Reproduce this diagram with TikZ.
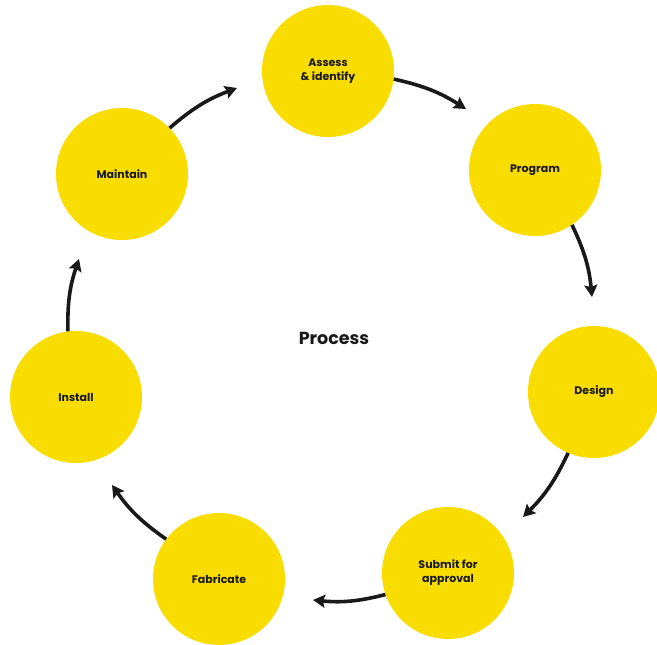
\documentclass[tikz,border=0pt]{standalone}
\usepackage{fontspec}
\setmainfont{Poppins}
\usetikzlibrary{arrows.meta}
\definecolor{stepyellow}{RGB}{250,221,0}
\definecolor{ink}{RGB}{25,25,25}
\tikzset{
  stage/.style={circle, fill=stepyellow, minimum size=132pt, inner sep=0pt, align=center,
    font=\bfseries\fontsize{11}{14}\selectfont, text=ink},
  flow/.style={line width=3.6pt, draw=ink, -{Stealth[length=12pt,width=13pt,inset=2pt]}, bend left=10},
}
\begin{document}
\begin{tikzpicture}[x=1pt,y=-1pt]
\useasboundingbox (0,0) rectangle (657,645);
\clip (0,0) rectangle (657,645);
\fill[white] (0,0) rectangle (657,645);
\node[stage] (assess) at (328,71) {Assess\\\& identify};
\node[stage] (program) at (535,170) {Program};
\node[stage] (design) at (594,392) {Design};
\node[stage] (submit) at (448,573) {Submit for\\approval};
\node[stage] (fabricate) at (219,579) {Fabricate};
\node[stage] (install) at (76,397) {Install};
\node[stage] (maintain) at (122,174) {Maintain};
\node[font=\bfseries\fontsize{17.5}{20}\selectfont, text=ink] (process) at (334,338) {Process};
\coordinate (t1) at (466,109);
\coordinate (t2) at (592,297);
\coordinate (t3) at (523,517);
\coordinate (t4) at (313,600);
\coordinate (t5) at (112,485);
\coordinate (t6) at (79,259);
\coordinate (t7) at (237,88);
\draw[flow] (assess.-7.6) to (t1);
\draw[flow] (program.-56.8) to (t2);
\draw[flow] (design.-113) to (t3);
\draw[flow] (submit.-161.6) to (t4);
\draw[flow] (fabricate.143.6) to (t5);
\draw[flow] (install.97.8) to (t6);
\draw[flow] (maintain.44.4) to (t7);
\end{tikzpicture}
\end{document}
